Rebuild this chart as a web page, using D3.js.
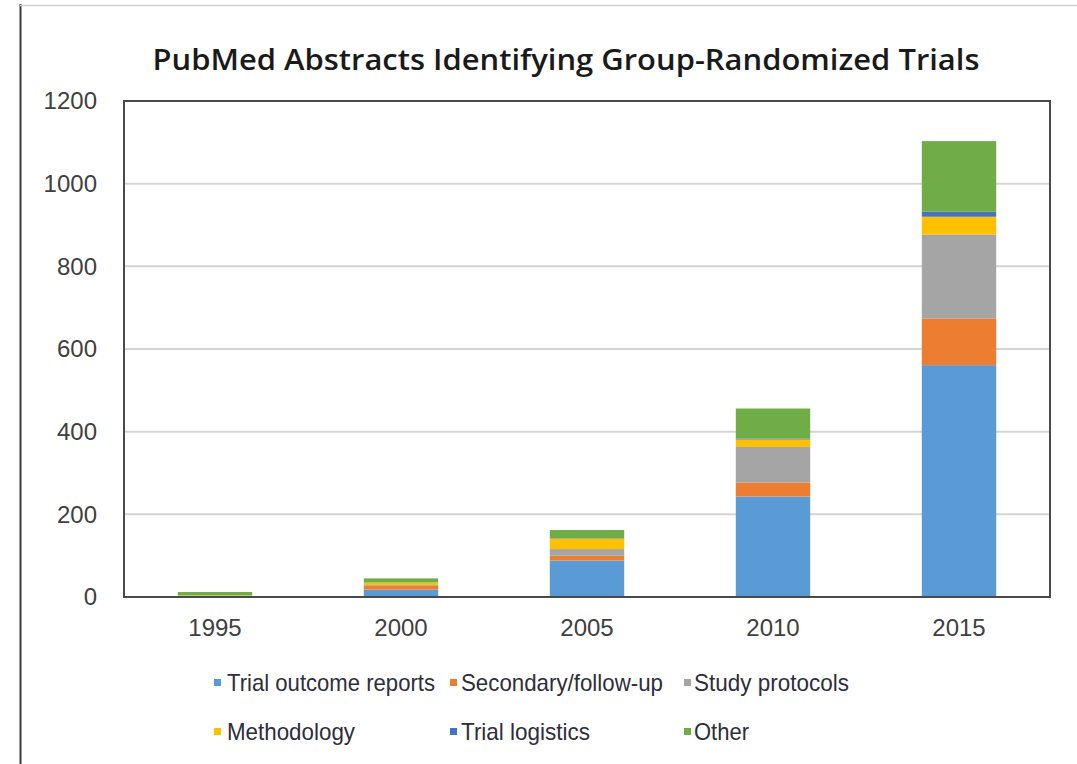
<!DOCTYPE html>
<html>
<head>
<meta charset="utf-8">
<script src="https://cdn.jsdelivr.net/npm/d3@7"></script>
<style>
  html, body { margin: 0; padding: 0; background: #fff; }
  svg { display: block; }
</style>
</head>
<body>
<svg id="chart" width="1077" height="764"></svg>
<script>
// Publication counts per year, split by abstract type
const years = ["1995", "2000", "2005", "2010", "2015"];
const seriesNames = ["Trial outcome reports", "Secondary/follow-up", "Study protocols", "Methodology", "Trial logistics", "Other"];
const trialOutcome   = [3, 18, 88, 243, 561];
const secondary      = [0, 9, 12, 34, 113];
const protocols      = [0, 2, 16, 86, 203];
const methodology    = [1, 6, 25, 18, 43];
const logistics      = [0, 0, 1, 2, 12];
const other          = [8, 10, 20, 73, 171];
const yTicks = [0, 200, 400, 600, 800, 1000, 1200];
const colors = ["#5B9BD5", "#ED7D31", "#A5A5A5", "#FFC000", "#4472C4", "#70AD47"];

const seriesValues = [trialOutcome, secondary, protocols, methodology, logistics, other];
const rows = years.map((y, i) => {
  const r = { year: y };
  seriesNames.forEach((n, k) => { r[n] = seriesValues[k][i]; });
  return r;
});

const svg = d3.select("#chart");
const frame = { left: 124, right: 1050, top: 101, bottom: 597 };

// outer frame edges
svg.append("line").attr("x1", 20.5).attr("x2", 20.5).attr("y1", 4).attr("y2", 764)
  .attr("stroke", "#3a3a3a").attr("stroke-width", 2);
svg.append("line").attr("x1", 20).attr("x2", 1077).attr("y1", 5.5).attr("y2", 5.5)
  .attr("stroke", "#d0d0d0").attr("stroke-width", 1.5);

// title
svg.append("text")
  .attr("x", 566).attr("y", 70)
  .attr("text-anchor", "middle")
  .attr("font-family", "'Open Sans', 'Noto Sans', sans-serif")
  .attr("font-weight", 600)
  .attr("font-size", 29)
  .attr("textLength", 827)
  .attr("lengthAdjust", "spacingAndGlyphs")
  .attr("fill", "#1a1a1a")
  .text("PubMed Abstracts Identifying Group-Randomized Trials");

const x = d3.scaleBand().domain(years).range([122, 1052]).paddingInner(0.6).paddingOuter(0.3);
const y = d3.scaleLinear().domain([0, 1200]).range([frame.bottom, frame.top]);

// gridlines
svg.append("g").selectAll("line").data(yTicks.filter(t => t > 0 && t < 1200)).join("line")
  .attr("x1", frame.left).attr("x2", frame.right)
  .attr("y1", d => y(d)).attr("y2", d => y(d))
  .attr("stroke", "#d4d4d4").attr("stroke-width", 2);

// stacked bars
const stack = d3.stack().keys(seriesNames)(rows);
svg.append("g").selectAll("g").data(stack).join("g")
  .attr("fill", (d, i) => colors[i])
  .selectAll("rect").data(d => d).join("rect")
  .attr("x", d => x(d.data.year))
  .attr("width", x.bandwidth())
  .attr("y", d => y(d[1]))
  .attr("height", d => Math.max(0, y(d[0]) - y(d[1])));

// plot frame
svg.append("rect")
  .attr("x", frame.left).attr("y", frame.top)
  .attr("width", frame.right - frame.left).attr("height", frame.bottom - frame.top)
  .attr("fill", "none").attr("stroke", "#4a4a4a").attr("stroke-width", 2);

// y axis labels
const yAxis = d3.axisLeft(y).tickValues(yTicks).tickFormat(d3.format("d")).tickSize(0).tickPadding(27);
const gy = svg.append("g").attr("transform", `translate(${frame.left},0)`).call(yAxis);
gy.select(".domain").remove();
gy.selectAll("text").attr("font-family", "'Liberation Sans', Arial, sans-serif")
  .attr("font-size", 24).attr("fill", "#404040");

// x axis labels
const xAxis = d3.axisBottom(x).tickSize(0).tickPadding(22);
const gx = svg.append("g").attr("transform", `translate(0,${frame.bottom})`).call(xAxis);
gx.select(".domain").remove();
gx.selectAll("text").attr("font-family", "'Liberation Sans', Arial, sans-serif")
  .attr("font-size", 24).attr("fill", "#404040");

// legend: marker x, text x, row y, text width
const legendLayout = [
  [214, 227, 682, 208], [450, 461, 682, 202], [684, 694, 682, 155],
  [214, 227, 731, 128], [450, 461, 731, 129], [684, 694, 731, 55]
];
const legend = svg.append("g").selectAll("g").data(seriesNames).join("g");
legend.append("rect")
  .attr("x", (d, i) => legendLayout[i][0])
  .attr("y", (d, i) => legendLayout[i][2] - 3)
  .attr("width", 7).attr("height", 7)
  .attr("fill", (d, i) => colors[i]);
legend.append("text")
  .attr("x", (d, i) => legendLayout[i][1])
  .attr("y", (d, i) => legendLayout[i][2])
  .attr("dy", "0.36em")
  .attr("font-family", "'Liberation Sans', Arial, sans-serif")
  .attr("font-size", 24).attr("fill", "#2e2e3a")
  .attr("textLength", (d, i) => legendLayout[i][3])
  .attr("lengthAdjust", "spacingAndGlyphs")
  .text(d => d);
</script>
</body>
</html>
